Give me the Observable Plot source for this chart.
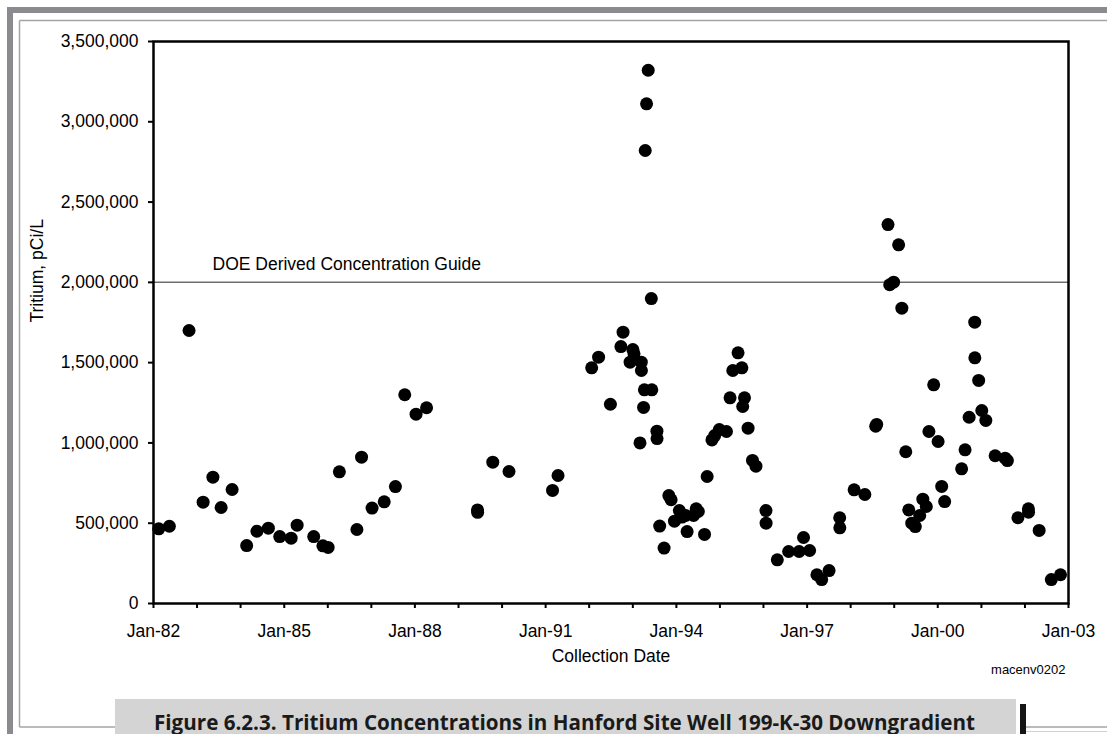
<!DOCTYPE html>
<html><head><meta charset="utf-8">
<script src="https://cdn.jsdelivr.net/npm/d3@7"></script>
<script src="https://cdn.jsdelivr.net/npm/@observablehq/plot@0.6"></script>
<style>
html,body{margin:0;padding:0;background:#fff;overflow:hidden;}
body{width:1107px;height:734px;position:relative;font-family:"Liberation Sans",Arial,sans-serif;}
#chart{position:absolute;left:0;top:0;width:1107px;height:700px;}
#chart svg{display:block;}
#deco{position:absolute;left:0;top:0;pointer-events:none;display:block;}
</style>
</head><body>
<div id="chart"></div>
<svg id="deco" width="1107" height="734" xmlns="http://www.w3.org/2000/svg">
  <rect x="7" y="7" width="1100" height="6" fill="#8b8b8f"/>
  <rect x="7" y="7" width="6" height="727" fill="#8b8b8f"/>
  <line x1="19.5" y1="20.5" x2="1107" y2="20.5" stroke="#a4a4a4" stroke-width="1.5"/>
  <line x1="19.5" y1="20.5" x2="19.5" y2="727" stroke="#a4a4a4" stroke-width="1.5"/>
  <line x1="19.5" y1="727" x2="115" y2="727" stroke="#a4a4a4" stroke-width="1.5"/>
  <line x1="1026" y1="727" x2="1107" y2="727" stroke="#a4a4a4" stroke-width="1.5"/>
  <line x1="1026" y1="731.5" x2="1107" y2="731.5" stroke="#d0d0d0" stroke-width="1"/>
  <rect x="115" y="699" width="901" height="35" fill="#d4d4d4"/>
  <rect x="1020" y="704" width="6" height="30" fill="#151515"/>
  <text x="154" y="729.5" textLength="821" lengthAdjust="spacingAndGlyphs" font-family="'Open Sans', sans-serif" font-weight="bold" font-size="22" fill="#1a1a1a">Figure 6.2.3.  Tritium Concentrations in Hanford Site Well 199-K-30 Downgradient</text>
</svg>
<script>
const dates = [
"1982-02-14","1982-05-14","1982-10-26","1983-02-21","1983-05-14","1983-07-22","1983-10-22",
"1984-02-21","1984-05-17","1984-08-21","1984-11-24","1985-02-28","1985-04-19","1985-09-05","1985-11-21",
"1986-01-04","1986-04-08","1986-09-02","1986-10-11","1987-01-07","1987-04-19","1987-07-22","1987-10-08",
"1988-01-11","1988-04-08","1989-06-09","1989-06-10","1989-10-15","1990-02-28","1991-02-28","1991-04-15",
"1992-01-22","1992-03-20","1992-06-27","1992-09-23","1992-10-11","1992-12-09","1993-01-01","1993-01-11",
"1993-03-13","1993-03-14","1993-03-02","1993-04-01","1993-04-08","1993-04-15","1993-04-26","1993-05-10",
"1993-06-05","1993-06-09","1993-07-22","1993-07-23","1993-08-14","1993-09-20","1993-10-30","1993-11-18",
"1993-12-16","1994-01-26","1994-02-17","1994-03-20","1994-04-01","1994-05-25","1994-06-16","1994-07-04",
"1994-08-25","1994-09-16","1994-10-26","1994-11-18","1994-12-27","1995-02-25","1995-03-27","1995-04-19",
"1995-06-02","1995-07-04","1995-07-11","1995-07-26","1995-08-25","1995-10-01","1995-10-30","1996-01-22",
"1996-01-23","1996-04-26","1996-07-30","1996-10-26","1996-12-02","1997-01-22","1997-03-24","1997-05-03",
"1997-07-04","1997-10-01","1997-10-02","1998-01-30","1998-04-30","1998-07-30","1998-08-07","1998-11-10",
"1998-11-24","1998-12-27","1999-02-07","1999-03-06","1999-04-08","1999-05-03","1999-05-28","1999-06-27",
"1999-08-03","1999-08-29","1999-09-27","1999-10-19","1999-11-28","2000-01-04","2000-02-03","2000-02-28",
"2000-07-19","2000-08-17","2000-09-20","2000-11-06","2000-11-07","2000-12-09","2001-01-04","2001-02-07",
"2001-04-26","2001-07-19","2001-08-07","2001-11-03","2002-01-30","2002-01-31","2002-04-30","2002-08-10",
"2002-10-26"
];
const tritium = [
465000,481000,1700000,631000,787000,598000,710000,
361000,450000,469000,417000,407000,488000,417000,359000,
349000,820000,461000,911000,594000,633000,728000,1300000,
1179000,1219000,583000,568000,880000,822000,704000,797000,
1468000,1534000,1241000,1600000,1690000,1503000,1582000,1555000,
1503000,1451000,1000000,1221000,1331000,2821000,3112000,3321000,
1899000,1331000,1073000,1027000,482000,345000,672000,646000,
513000,579000,538000,548000,448000,548000,590000,573000,
430000,791000,1019000,1046000,1083000,1071000,1281000,1451000,
1561000,1468000,1227000,1281000,1092000,891000,855000,579000,
500000,272000,324000,324000,411000,330000,179000,149000,
205000,534000,471000,708000,679000,1104000,1115000,2360000,
1985000,2001000,2234000,1839000,945000,583000,500000,479000,
548000,650000,604000,1071000,1362000,1009000,729000,635000,
839000,957000,1160000,1752000,1530000,1389000,1202000,1140000,
920000,905000,890000,534000,590000,569000,455000,149000,
179000
];
const yTicks = [0, 500000, 1000000, 1500000, 2000000, 2500000, 3000000, 3500000];
const tickYears = ["1982","1983","1984","1985","1986","1987","1988","1989","1990","1991","1992",
  "1993","1994","1995","1996","1997","1998","1999","2000","2001","2002","2003"];
const labeledYears = ["1982","1985","1988","1991","1994","1997","2000","2003"];
const doeGuide = [{value: 2000000, label: "DOE Derived Concentration Guide"}];
const yLabel = "Tritium, pCi/L";
const xLabel = "Collection Date";
const sourceCode = "macenv0202";

const data = dates.map((d, i) => ({date: new Date(d), value: tritium[i]}));
const tickDates = tickYears.map(y => new Date(y + "-01-01"));
const labelSet = new Set(labeledYears.map(Number));
const fmtX = d3.utcFormat("%b-%y");

const chart = Plot.plot({
  width: 1107, height: 700,
  marginLeft: 153, marginRight: 39, marginTop: 41, marginBottom: 97,
  style: {fontFamily: '"Liberation Sans", Arial, sans-serif', fontSize: "17.5px", background: "transparent", color: "#000"},
  x: {type: "utc", domain: [tickDates[0], tickDates[tickDates.length - 1]]},
  y: {domain: [yTicks[0], yTicks[yTicks.length - 1]]},
  marks: [
    Plot.ruleY(doeGuide, {y: "value", stroke: "#6e6e6e", strokeWidth: 1.5}),
    Plot.text(doeGuide, {y: "value", text: "label", frameAnchor: "left", textAnchor: "start", dx: 59, dy: -18, fill: "#000"}),
    Plot.dot(data, {x: "date", y: "value", r: 6.5, fill: "#000", stroke: null}),
    Plot.frame({stroke: "#000", strokeWidth: 2.5}),
    Plot.axisY({ticks: yTicks, tickFormat: d3.format(","), tickSize: 5, tickPadding: 10, strokeWidth: 2, label: null}),
    Plot.axisX({ticks: tickDates, tickFormat: d => labelSet.has(d.getUTCFullYear()) ? fmtX(d) : "", tickSize: 5, tickPadding: 16, strokeWidth: 2, label: null}),
    Plot.text([xLabel], {frameAnchor: "bottom", dy: 58, fill: "#000"}),
    Plot.text([yLabel], {frameAnchor: "left", rotate: -90, dx: -116, fill: "#000"}),
    Plot.text([sourceCode], {frameAnchor: "bottom-right", textAnchor: "end", dx: -3, dy: 70, fontSize: 13, fill: "#000"})
  ]
});
document.getElementById("chart").appendChild(chart);
</script>
</body></html>
